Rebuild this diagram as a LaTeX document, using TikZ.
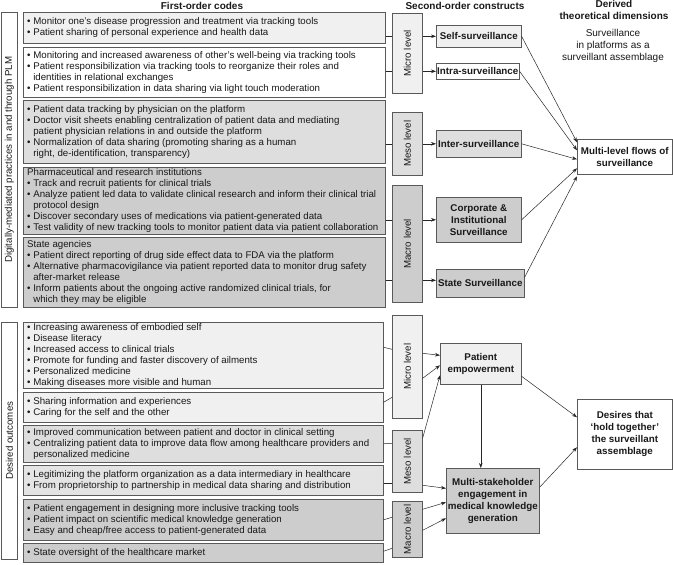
\documentclass[tikz,border=0pt]{standalone}
\usepackage{fontspec}
\setmainfont{Liberation Sans}
\usetikzlibrary{arrows.meta}
\newcommand{\contind}{\hphantom{•\ }}
\definecolor{lightf}{HTML}{F0F0F0}
\definecolor{midf}{HTML}{DEDEDE}
\definecolor{mid2f}{HTML}{E4E4E4}
\definecolor{darkf}{HTML}{CDCDCD}
\begin{document}
\begin{tikzpicture}[x=1pt,y=-1pt,
  every node/.style={font=\fontsize{9.7}{11}\selectfont, text=black!90},
  box/.style={draw=black!65, line width=0.6pt, anchor=north west, inner sep=0pt},
  txt/.style={anchor=west, align=left, inner sep=0pt},
  con/.style={box, align=center, font=\fontsize{9.8}{12}\selectfont\bfseries},
  hdr/.style={align=center, font=\fontsize{10}{11.5}\selectfont\bfseries},
  arr/.style={-{Stealth[length=5pt,width=3.6pt]}, draw=black!85, line width=0.5pt},
  ln/.style={draw=black!85, line width=0.5pt}]
\path[use as bounding box] (0,0) rectangle (673,565);

% headers
\node[hdr] (h1) at (202,6) {First-order codes};
\node[hdr] (h2) at (465,6) {Second-order constructs};
\node[hdr] (h3) at (614,10) {Derived\\theoretical dimensions};
\node[align=center, font=\fontsize{10}{12}\selectfont] (h4) at (613,46) {Surveillance\\in platforms as a\\surveillant assemblage};

% left labels
\node[box, minimum width=16pt, minimum height=295pt] (lab1) at (1,12) {};
\node[rotate=90] (lab1t) at (lab1.center) {Digitally-mediated practices in and through PLM};
\node[box, minimum width=16pt, minimum height=237pt] (lab2) at (1,322) {};
\node[rotate=90] (lab2t) at (lab2.center) {Desired outcomes};

% upper first-order boxes
\node[box, fill=lightf, minimum width=362pt, minimum height=31pt] (b1) at (23,12) {};
\node[txt] (b1t) at ([xshift=4pt]b1.west) {• Monitor one’s disease progression and treatment via tracking tools\\• Patient sharing of personal experience and health data};
\node[box, fill=white, minimum width=362pt, minimum height=50pt] (b2) at (23,47) {};
\node[txt] (b2t) at ([xshift=4pt]b2.west) {• Monitoring and increased awareness of other’s well-being via tracking tools\\• Patient responsibilization via tracking tools to reorganize their roles and\\\contind identities in relational exchanges\\• Patient responsibilization in data sharing via light touch moderation};
\node[box, fill=midf, minimum width=362pt, minimum height=63pt] (b3) at (23,100) {};
\node[txt] (b3t) at ([xshift=4pt]b3.west) {• Patient data tracking by physician on the platform\\• Doctor visit sheets enabling centralization of patient data and mediating\\\contind patient physician relations in and outside the platform\\• Normalization of data sharing (promoting sharing as a human\\\contind right, de-identification, transparency)};
\node[box, fill=darkf, minimum width=362pt, minimum height=67pt] (b4) at (23,167) {};
\node[txt] (b4t) at ([xshift=4pt]b4.west) {Pharmaceutical and research institutions\\• Track and recruit patients for clinical trials\\• Analyze patient led data to validate clinical research and inform their clinical trial\\\contind protocol design\\• Discover secondary uses of medications via patient-generated data\\• Test validity of new tracking tools to monitor patient data via patient collaboration};
\node[box, fill=darkf, minimum width=362pt, minimum height=70pt] (b5) at (23,237) {};
\node[txt] (b5t) at ([xshift=4pt]b5.west) {State agencies\\• Patient direct reporting of drug side effect data to FDA via the platform\\• Alternative pharmacovigilance via patient reported data to monitor drug safety\\\contind after-market release\\• Inform patients about the ongoing active randomized clinical trials, for\\\contind which they may be eligible};

% lower first-order boxes
\node[box, fill=lightf, minimum width=360pt, minimum height=66pt] (b6) at (23,322) {};
\node[txt] (b6t) at ([xshift=4pt]b6.west) {• Increasing awareness of embodied self\\• Disease literacy\\• Increased access to clinical trials\\• Promote for funding and faster discovery of ailments\\• Personalized medicine\\• Making diseases more visible and human};
\node[box, fill=lightf, minimum width=360pt, minimum height=30pt] (b7) at (23,392) {};
\node[txt] (b7t) at ([xshift=4pt]b7.west) {• Sharing information and experiences\\• Caring for the self and the other};
\node[box, fill=midf, minimum width=360pt, minimum height=37pt] (b8) at (23,425) {};
\node[txt] (b8t) at ([xshift=4pt]b8.west) {• Improved communication between patient and doctor in clinical setting\\• Centralizing patient data to improve data flow among healthcare providers and\\\contind personalized medicine};
\node[box, fill=mid2f, minimum width=360pt, minimum height=30pt] (b9) at (23,465) {};
\node[txt] (b9t) at ([xshift=4pt]b9.west) {• Legitimizing the platform organization as a data intermediary in healthcare\\• From proprietorship to partnership in medical data sharing and distribution};
\node[box, fill=darkf, minimum width=360pt, minimum height=41pt] (b10) at (23,499) {};
\node[txt] (b10t) at ([xshift=4pt]b10.west) {• Patient engagement in designing more inclusive tracking tools\\• Patient impact on scientific medical knowledge generation\\• Easy and cheap/free access to patient-generated data};
\node[box, fill=darkf, minimum width=360pt, minimum height=19pt] (b11) at (23,543) {};
\node[txt] (b11t) at ([xshift=4pt]b11.west) {• State oversight of the healthcare market};

% level boxes
\node[box, fill=lightf, minimum width=30pt, minimum height=80pt] (mic1) at (392,13) {};
\node[rotate=90] (mic1t) at (mic1.center) {Micro level};
\node[box, fill=midf, minimum width=30pt, minimum height=63pt] (mes1) at (392,112) {};
\node[rotate=90] (mes1t) at (mes1.center) {Meso level};
\node[box, fill=darkf, minimum width=30pt, minimum height=117pt] (mac1) at (392,185) {};
\node[rotate=90] (mac1t) at (mac1.center) {Macro level};
\node[box, fill=lightf, minimum width=30pt, minimum height=103pt] (mic2) at (392,315) {};
\node[rotate=90] (mic2t) at (mic2.center) {Micro level};
\node[box, fill=midf, minimum width=30pt, minimum height=62pt] (mes2) at (392,430) {};
\node[rotate=90] (mes2t) at (mes2.center) {Meso level};
\node[box, fill=darkf, minimum width=30pt, minimum height=56pt] (mac2) at (392,501) {};
\node[rotate=90] (mac2t) at (mac2.center) {Macro level};

% second-order constructs
\node[con, fill=lightf, minimum width=85pt, minimum height=22pt] (self) at (436,25) {Self-surveillance};
\node[con, fill=white, minimum width=83pt, minimum height=16pt] (intra) at (436,63) {Intra-surveillance};
\node[con, fill=midf, minimum width=85pt, minimum height=27pt] (inter) at (436,130) {Inter-surveillance};
\node[con, fill=darkf, minimum width=85pt, minimum height=45pt] (corp) at (436,197) {Corporate \&\\Institutional\\Surveillance};
\node[con, fill=darkf, minimum width=88pt, minimum height=28pt] (state) at (436,269) {State Surveillance};
\node[con, fill=lightf, minimum width=81pt, minimum height=41pt] (pe) at (440,343) {Patient\\empowerment};
\node[con, fill=darkf, minimum width=93pt, minimum height=65pt] (ms) at (446,468) {Multi-stakeholder\\engagement in\\medical knowledge\\generation};

% derived dimensions
\node[con, fill=white, minimum width=95pt, minimum height=35pt] (mlf) at (577,139) {Multi-level flows of\\surveillance};
\node[con, fill=white, minimum width=95pt, minimum height=70pt] (des) at (577,399) {Desires that\\‘hold together’\\the surveillant\\assemblage};

% upper connectors
\draw[ln] (b1.east |- self.west) -- (mic1.west |- self.west);
\draw[arr] (mic1.east |- self.west) -- (self.west);
\draw[ln] (b2.east |- intra.west) -- (mic1.west |- intra.west);
\draw[arr] (mic1.east |- intra.west) -- (intra.west);
\draw[ln] (b3.east |- inter.west) -- (mes1.west |- inter.west);
\draw[arr] (mes1.east |- inter.west) -- (inter.west);
\draw[ln] (b4.east |- corp.west) -- (mac1.west |- corp.west);
\draw[arr] (mac1.east |- corp.west) -- (corp.west);
\draw[ln] ([yshift=3pt]b5.east |- state.west) -- ([yshift=3pt]mac1.west |- state.west);
\draw[arr] ([yshift=3pt]mac1.east |- state.west) -- ([yshift=3pt]state.west);

\draw[arr] (self.east) -- ([yshift=14.5pt]mlf.west);
\draw[arr] (intra.east) -- ([yshift=6.5pt]mlf.west);
\draw[arr] (inter.east) -- ([yshift=-2.5pt]mlf.west);
\draw[arr] (corp.east) -- ([yshift=-11.5pt]mlf.west);
\draw[arr] ([yshift=6pt]state.east) -- ([yshift=-19.5pt]mlf.west);

% lower connectors
\draw[ln] ([yshift=8pt]b6.east) -- ([yshift=17.5pt]mic2.west);
\draw[ln] ([yshift=5pt]b7.east) -- ([yshift=-30.5pt]mic2.west);
\draw[ln] (b8.east) -- ([yshift=18pt]mes2.west);
\draw[ln] ([yshift=-3pt]b9.east) -- ([yshift=-22pt]mes2.west);
\draw[ln] (b10.east) -- ([yshift=12pt]mac2.west);
\draw[ln] ([yshift=1.5pt]b11.east) -- ([yshift=-19pt]mac2.west);

\draw[arr] ([yshift=13.5pt]mic2.east) -- ([yshift=8.5pt]pe.west);
\draw[arr] ([yshift=-11.5pt]mic2.east) -- ([yshift=-1.5pt]pe.west);
\draw[arr] ([yshift=23pt]mes2.east) -- ([yshift=-11.5pt]pe.west);
\draw[arr] ([yshift=-24pt]mes2.east) -- ([yshift=12.5pt]ms.west);
\draw[arr] ([yshift=20pt]mac2.east) -- ([yshift=-1.5pt]ms.west);
\draw[arr] ([yshift=-1pt]mac2.east) -- ([yshift=-17.5pt]ms.west);
\draw[arr] (pe.south) -- (pe.south |- ms.north);
\draw[arr] ([yshift=-12.5pt]pe.east) -- ([yshift=17pt]des.west);
\draw[arr] ([yshift=13.5pt]ms.east) -- ([yshift=-13pt]des.west);
\end{tikzpicture}
\end{document}
